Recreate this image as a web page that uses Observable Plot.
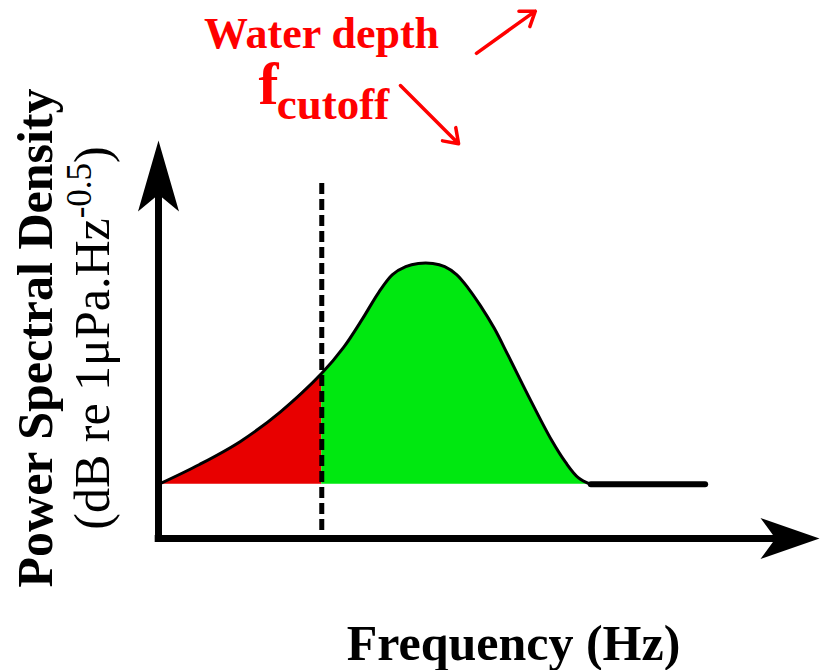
<!DOCTYPE html>
<html>
<head>
<meta charset="utf-8">
<script src="https://cdn.jsdelivr.net/npm/d3@7"></script>
<script src="https://cdn.jsdelivr.net/npm/@observablehq/plot@0.6"></script>
<style>
  html, body { margin: 0; padding: 0; background: #fff; }
  #chart { width: 822px; height: 670px; }
</style>
</head>
<body>
<div id="chart"></div>
<script>
// ---- data (arbitrary schematic units: frequency 0–100, PSD 0–100) ----
const freq = [0, 6.2, 12.4, 18.5, 24.7, 28.0, 30.9, 33.3, 35.4, 37.4, 39.3, 41.5, 43.3, 45.1, 46.9, 48.7, 50.8, 52.9, 56.3, 59.5, 61.6, 63.5, 65.4];
const psd  = [13.6, 18.6, 24.4, 31.9, 41.5, 48.0, 55.3, 61.8, 66.3, 68.3, 69.1, 69.1, 68.3, 66.3, 62.8, 58.5, 52.8, 46.0, 34.7, 24.6, 19.1, 15.3, 13.6];
const baseline = 13.6;
const tailFreq = [65.4, 82.7];
const tailPsd = [13.6, 13.6];
const cutoff = 24.7;
const cutoffSpan = [89.2, 0];
const xAxisSpan = [-0.5, 94];
const yAxisSpan = [-1, 88];
const axisTips = [{x: 100, y: 0, dir: "right"}, {x: 0, y: 100, dir: "up"}];
// annotation arrows (x1, y1) -> (x2, y2)
const annoArrows = [
  {x1: 48.1, y1: 121.9, x2: 57.0, y2: 132.5},
  {x1: 36.6, y1: 113.8, x2: 45.4, y2: 99.2}
];
const labelTitle = "Water depth";
const labelF = "f";
const labelSub = "cutoff";
const labelX = "Frequency (Hz)";
const labelY = "Power Spectral Density";
const labelYUnits = "(dB re 1μPa.Hz";
const labelYSup = "-0.5";
const labelYClose = ")";

const RED = "#e80000";
const GREEN = "#00e810";
const TEXT_RED = "#ff0000";
const FONT = "Liberation Serif";

const curve = freq.map((f, i) => ({f, p: psd[i]}));
const lowPart = curve.filter(d => d.f <= cutoff);
const highPart = curve.filter(d => d.f >= cutoff);
const tail = tailFreq.map((f, i) => ({f, p: tailPsd[i]}));

const arrowRight = {draw(ctx) { ctx.moveTo(0, 0); ctx.lineTo(-59, -20.5); ctx.lineTo(-44, 0); ctx.lineTo(-59, 20.5); ctx.closePath(); }};
const arrowUp = {draw(ctx) { ctx.moveTo(0, 0); ctx.lineTo(-20.5, 71); ctx.lineTo(0, 54); ctx.lineTo(20.5, 71); ctx.closePath(); }};

const plot = Plot.plot({
  width: 822,
  height: 670,
  marginLeft: 158,
  marginRight: 3,
  marginTop: 140,
  marginBottom: 132,
  x: {domain: [0, 100], axis: null},
  y: {domain: [0, 100], axis: null},
  style: {background: "white"},
  marks: [
    Plot.areaY(lowPart, {x: "f", y1: baseline, y2: "p", fill: RED, curve: "catmull-rom"}),
    Plot.areaY(highPart, {x: "f", y1: baseline, y2: "p", fill: GREEN, curve: "catmull-rom"}),
    Plot.line(curve, {x: "f", y: "p", stroke: "black", strokeWidth: 3, curve: "catmull-rom"}),
    Plot.line(tail, {x: "f", y: "p", stroke: "black", strokeWidth: 6}),
    Plot.ruleX([cutoff], {y1: cutoffSpan[0], y2: cutoffSpan[1], stroke: "black", strokeWidth: 5, strokeDasharray: "11,5"}),
    Plot.ruleX([0], {y1: yAxisSpan[0], y2: yAxisSpan[1], stroke: "black", strokeWidth: 7}),
    Plot.ruleY([0], {x1: xAxisSpan[0], x2: xAxisSpan[1], stroke: "black", strokeWidth: 7}),
    Plot.dot(axisTips.filter(d => d.dir === "right"), {x: "x", y: "y", symbol: arrowRight, fill: "black", stroke: "none"}),
    Plot.dot(axisTips.filter(d => d.dir === "up"), {x: "x", y: "y", symbol: arrowUp, fill: "black", stroke: "none"}),
    Plot.arrow(annoArrows, {x1: "x1", y1: "y1", x2: "x2", y2: "y2", stroke: TEXT_RED, strokeWidth: 3.5, headLength: 7, headAngle: 70}),
    Plot.text([labelTitle], {frameAnchor: "top", textAnchor: "middle", dx: -167.5, dy: -93, lineAnchor: "bottom", fontFamily: FONT, fontWeight: "bold", fontSize: 44, fill: TEXT_RED}),
    Plot.text([labelF], {frameAnchor: "top", textAnchor: "middle", dx: -220.5, dy: -37, lineAnchor: "bottom", fontFamily: FONT, fontWeight: "bold", fontSize: 60, fill: TEXT_RED}),
    Plot.text([labelSub], {frameAnchor: "top", textAnchor: "middle", dx: -156, dy: -22, lineAnchor: "bottom", fontFamily: FONT, fontWeight: "bold", fontSize: 45, fill: TEXT_RED}),
    Plot.text([labelX], {frameAnchor: "bottom", textAnchor: "middle", dx: 24.5, dy: 121, lineAnchor: "bottom", fontFamily: FONT, fontWeight: "bold", fontSize: 50, fill: "black"}),
    Plot.text([labelY], {frameAnchor: "left", textAnchor: "middle", dx: -107, dy: -1.5, rotate: -90, lineAnchor: "bottom", fontFamily: FONT, fontWeight: "bold", fontSize: 50, fill: "black"}),
    Plot.text([labelYUnits], {frameAnchor: "left", textAnchor: "middle", dx: -50, dy: -1.5, rotate: -90, lineAnchor: "bottom", fontFamily: FONT, fontSize: 50, fill: "black"})
  ]
});

// add the superscript exponent to the units label
d3.select(plot).selectAll("text").each(function() {
  if (this.textContent === labelYUnits) {
    const t = d3.select(this);
    t.append("tspan").attr("dy", -18).attr("font-size", 35).text(labelYSup);
    t.append("tspan").attr("dy", 18).attr("font-size", 50).text(labelYClose);
  }
});

document.getElementById("chart").appendChild(plot);
</script>
</body>
</html>
